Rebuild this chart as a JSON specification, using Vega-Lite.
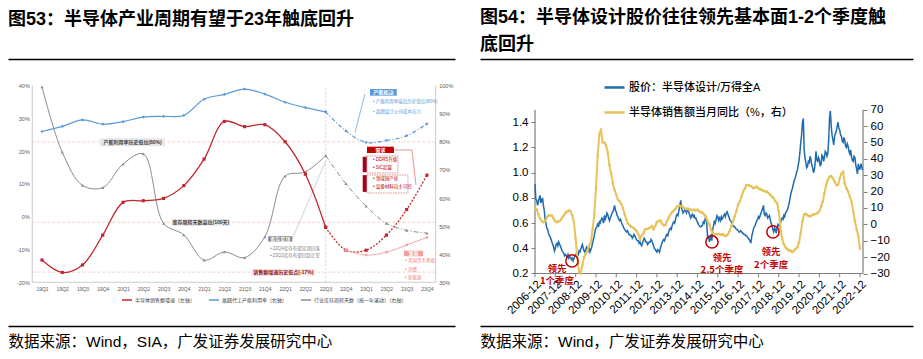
{
"$schema": "https://vega.github.io/schema/vega-lite/v6.json",
"autosize": {"type": "pad"},
"padding": {"left": 8, "top": 9, "right": 10, "bottom": 5},
"background": "white",
"bounds": "flush",
"spacing": 25,
"config": {
  "font": "Liberation Sans, Noto Sans CJK SC",
  "view": {"stroke": null},
  "axis": {"grid": false},
  "title": {"fontWeight": "bold", "fontSize": 18, "color": "#000000", "anchor": "start", "frame": "group"}
},
"resolve": {"scale": {"color": "independent"}, "legend": {"color": "independent"}},
"datasets": {
  "left": [
    {"i":0,"q":"19Q1","sales":-13.2,"util":83.7,"inv":99.6},
    {"i":1,"q":"19Q2","sales":-17.0,"util":85.5,"inv":76.3},
    {"i":2,"q":"19Q3","sales":-14.7,"util":87.8,"inv":64.5},
    {"i":3,"q":"19Q4","sales":-5.6,"util":86.3,"inv":63.7},
    {"i":4,"q":"20Q1","sales":4.4,"util":87.2,"inv":72.1},
    {"i":5,"q":"20Q2","sales":4.9,"util":88.8,"inv":75.7},
    {"i":6,"q":"20Q3","sales":5.6,"util":89.1,"inv":51.0},
    {"i":7,"q":"20Q4","sales":9.5,"util":89.4,"inv":46.9},
    {"i":8,"q":"21Q1","sales":17.6,"util":95.2,"inv":37.9},
    {"i":9,"q":"21Q2","sales":29.1,"util":96.9,"inv":40.8},
    {"i":10,"q":"21Q3","sales":27.5,"util":98.8,"inv":38.8},
    {"i":11,"q":"21Q4","sales":28.1,"util":97.0,"inv":46.2},
    {"i":12,"q":"22Q1","sales":22.9,"util":94.1,"inv":67.8},
    {"i":13,"q":"22Q2","sales":13.0,"util":92.2,"inv":69.3},
    {"i":14,"q":"22Q3","sales":-3.2,"util":90.7,"inv":75.1},
    {"i":15,"q":"22Q4","sales":-10.2,"util":83.9,"inv":65.1,"alt":-10.2},
    {"i":16,"q":"23Q1","sales":-10.2,"util":79.8,"inv":57.1,"alt":-11.7},
    {"i":17,"q":"23Q2","sales":-5.6,"util":80.5,"inv":51.0,"alt":-10.8},
    {"i":18,"q":"23Q3","sales":2.2,"util":82.2,"inv":48.5,"alt":-8.6},
    {"i":19,"q":"23Q4","sales":12.7,"util":86.4,"inv":47.5,"alt":-6.3}
  ]
},
"hconcat": [
{
  "width": 447,
  "height": 267,
  "title": {"text": "图53：半导体产业周期有望于23年触底回升", "offset": 30},
  "resolve": {"scale": {"y": "independent"}},
  "layer": [
    {
      "data": {"values": [{"i1":-0.48,"i2":-0.48,"v1":-20,"v2":40},{"i1":19.43,"i2":19.43,"v1":-20,"v2":40},{"i1":-0.48,"i2":19.43,"v1":-20,"v2":-20}]},
      "mark": {"type": "rule", "color": "#BFBFBF", "strokeWidth": 0.8},
      "encoding": {
        "x": {"field": "i1", "type": "quantitative", "scale": {"domain": [-1.678, 20.385], "nice": false, "zero": false}, "axis": null}, "x2": {"field": "i2"},
        "y": {"field": "v1", "type": "quantitative", "scale": {"domain": [-33.34, 48.15], "nice": false, "zero": false}, "axis": null}, "y2": {"field": "v2"}
      }
    },
    {
      "data": {"values": [{"i1":14,"i2":14,"v1":-20,"v2":40}]},
      "mark": {"type": "rule", "color": "#CFCFCF", "strokeWidth": 0.8, "strokeDash": [2, 2]},
      "encoding": {
        "x": {"field": "i1", "type": "quantitative", "axis": null}, "x2": {"field": "i2"},
        "y": {"field": "v1", "type": "quantitative", "scale": {"domain": [-33.34, 48.15], "nice": false, "zero": false}, "axis": null}, "y2": {"field": "v2"}
      }
    },
    {
      "data": {"values": [{"i1":-0.48,"i2":19.43,"v1":22.85,"v2":22.85},{"i1":-0.48,"i2":19.43,"v1":-1.7,"v2":-1.7},{"i1":-0.48,"i2":19.43,"v1":-16.9,"v2":-16.9}]},
      "mark": {"type": "rule", "color": "#EFC4C4", "strokeWidth": 0.8, "strokeDash": [3, 2]},
      "encoding": {
        "x": {"field": "i1", "type": "quantitative", "axis": null}, "x2": {"field": "i2"},
        "y": {"field": "v1", "type": "quantitative", "scale": {"domain": [-33.34, 48.15], "nice": false, "zero": false}, "axis": null}, "y2": {"field": "v2"}
      }
    },
    {
      "data": {"name": "left"},
      "transform": [{"filter": "datum.i <= 14"}],
      "mark": {"type": "line", "interpolate": "catmull-rom", "strokeWidth": 1.2, "point": {"shape": "diamond", "size": 10, "filled": true}},
      "encoding": {
        "x": {"field": "i", "type": "quantitative",
              "axis": {"orient": "top", "labels": false, "ticks": false, "tickSize": 0, "domain": true, "domainColor": "#000000", "domainWidth": 1.3, "grid": false, "title": null}},
        "y": {"field": "util", "type": "quantitative", "scale": {"domain": [14.44, 109.5], "nice": false, "zero": false},
              "axis": {"orient": "right", "offset": -19.3, "values": [30,40,50,60,70,80,90,100], "labelExpr": "datum.value + '%'", "domain": false, "ticks": false, "tickSize": 0, "labelPadding": 3, "labelFontSize": 5.5, "labelColor": "#595959", "grid": false, "title": null}},
        "color": {"datum": "晶圆代工产能利用率（右轴）"}
      }
    },
    {
      "data": {"name": "left"},
      "transform": [{"filter": "datum.i >= 14"}],
      "mark": {"type": "line", "interpolate": "catmull-rom", "strokeWidth": 1.2, "strokeDash": [4, 2, 1, 2], "point": {"shape": "diamond", "size": 10, "filled": true}},
      "encoding": {
        "x": {"field": "i", "type": "quantitative", "axis": null},
        "y": {"field": "util", "type": "quantitative", "scale": {"domain": [14.44, 109.5], "nice": false, "zero": false}, "axis": null},
        "color": {"datum": "晶圆代工产能利用率（右轴）"}
      }
    },
    {
      "data": {"name": "left"},
      "transform": [{"filter": "datum.i <= 14"}],
      "mark": {"type": "line", "interpolate": "catmull-rom", "strokeWidth": 1, "point": {"shape": "triangle-up", "size": 10, "filled": true}},
      "encoding": {
        "x": {"field": "i", "type": "quantitative", "axis": null},
        "y": {"field": "inv", "type": "quantitative", "scale": {"domain": [14.44, 109.5], "nice": false, "zero": false}, "axis": null},
        "color": {"datum": "行业库存周转天数（按一年滚动）（右轴）"}
      }
    },
    {
      "data": {"name": "left"},
      "transform": [{"filter": "datum.i >= 14"}],
      "mark": {"type": "line", "interpolate": "catmull-rom", "strokeWidth": 1, "strokeDash": [5, 2, 1, 2], "point": {"shape": "triangle-up", "size": 10, "filled": true}},
      "encoding": {
        "x": {"field": "i", "type": "quantitative", "axis": null},
        "y": {"field": "inv", "type": "quantitative", "scale": {"domain": [14.44, 109.5], "nice": false, "zero": false}, "axis": null},
        "color": {"datum": "行业库存周转天数（按一年滚动）（右轴）"}
      }
    },
    {
      "data": {"values": [
        {"i1":2.863,"i2":6.071,"v1":23.95,"v2":21.51,"k":"浅灰"},
        {"i1":6.40,"i2":9.28,"v1":-0.68,"v2":-2.72,"k":"浅灰"},
        {"i1":10.35,"i2":13.47,"v1":-15.94,"v2":-17.98,"k":"浅粉"},
        {"i1":16.19,"i2":17.51,"v1":38.99,"v2":36.95,"k":"蓝"},
        {"i1":16.04,"i2":17.37,"v1":21.39,"v2":19.46,"k":"红"},
        {"i1":15.83,"i2":16.03,"v1":18.3,"v2":13.6,"k":"深红"},
        {"i1":15.83,"i2":16.03,"v1":12.7,"v2":7.6,"k":"深红"},
        {"i1":11.17,"i2":12.35,"v1":-5.96,"v2":-7.60,"k":"灰"},
        {"i1":17.87,"i2":18.81,"v1":-10.35,"v2":-12.06,"k":"浅红"}
      ]},
      "mark": {"type": "rect"},
      "encoding": {
        "x": {"field": "i1", "type": "quantitative", "axis": null}, "x2": {"field": "i2"},
        "y": {"field": "v1", "type": "quantitative", "scale": {"domain": [-33.34, 48.15], "nice": false, "zero": false}, "axis": null}, "y2": {"field": "v2"},
        "fill": {"field": "k", "type": "nominal", "legend": null,
                 "scale": {"domain": ["浅灰","浅粉","蓝","红","深红","灰","浅红"], "range": ["#E4E7EC","#FBE2E4","#5B9BD5","#C00000","#A50021","#808080","#F4A09C"]}}
      }
    },
    {
      "data": {"values": [{"i1":16.03,"i2":17.57,"v1":18.55,"v2":13.36},{"i1":16.03,"i2":18.06,"v1":12.75,"v2":7.25}]},
      "mark": {"type": "rect", "fillOpacity": 0, "stroke": "#D04040", "strokeWidth": 0.6, "strokeDash": [1.5, 1]},
      "encoding": {
        "x": {"field": "i1", "type": "quantitative", "axis": null}, "x2": {"field": "i2"},
        "y": {"field": "v1", "type": "quantitative", "scale": {"domain": [-33.34, 48.15], "nice": false, "zero": false}, "axis": null}, "y2": {"field": "v2"}
      }
    },
    {
      "data": {"values": [
        {"i1":15.94,"i2":15.45,"v1":37.47,"v2":25.78,"k":"蓝"},
        {"i1":17.37,"i2":18.26,"v1":20.38,"v2":20.38,"k":"红"},
        {"i1":18.26,"i2":18.46,"v1":20.38,"v2":9.7,"k":"红"},
        {"i1":12.35,"i2":14.0,"v1":-6.78,"v2":17.0,"k":"灰"}
      ]},
      "mark": {"type": "rule", "strokeWidth": 0.7},
      "encoding": {
        "x": {"field": "i1", "type": "quantitative", "axis": null}, "x2": {"field": "i2"},
        "y": {"field": "v1", "type": "quantitative", "scale": {"domain": [-33.34, 48.15], "nice": false, "zero": false}, "axis": null}, "y2": {"field": "v2"},
        "stroke": {"field": "k", "type": "nominal", "legend": null, "scale": {"domain": ["蓝","红","灰"], "range": ["#5B9BD5","#E06666","#BFBFBF"]}}
      }
    },
    {
      "data": {"name": "left"},
      "transform": [{"filter": "datum.i <= 14"}],
      "mark": {"type": "line", "interpolate": "catmull-rom", "strokeWidth": 1.3, "point": {"shape": "square", "size": 10, "filled": true}},
      "encoding": {
        "x": {"field": "i", "type": "quantitative",
              "axis": {"orient": "bottom", "values": [0,1,2,3,4,5,6,7,8,9,10,11,12,13,14,15,16,17,18,19],
                       "labelExpr": "(19 + floor(datum.value / 4)) + 'Q' + (datum.value % 4 + 1)",
                       "labelFontSize": 5, "labelColor": "#595959", "labelPadding": -38, "labelBaseline": "middle", "labelOverlap": false, "labelFlush": false,
                       "ticks": false, "tickSize": 0, "grid": false, "domain": true, "domainColor": "#000000", "domainWidth": 1.3,
                       "title": "数据来源：Wind，SIA，广发证券发展研究中心", "titleAnchor": "start", "titleAlign": "left", "titleFontSize": 15.5, "titleFontWeight": "normal", "titleColor": "#000000", "titlePadding": 8.5}},
        "y": {"field": "sales", "type": "quantitative", "scale": {"domain": [-33.34, 48.15], "nice": false, "zero": false},
              "axis": {"orient": "left", "offset": -24.3, "values": [-20,-10,0,10,20,30,40], "labelExpr": "datum.value + '%'", "domain": false, "ticks": false, "tickSize": 0, "labelPadding": 3, "labelFontSize": 5.5, "labelColor": "#595959", "grid": false, "title": null}},
        "color": {"datum": "半导体销售额增速（左轴）",
                  "scale": {"domain": ["半导体销售额增速（左轴）","晶圆代工产能利用率（右轴）","行业库存周转天数（按一年滚动）（右轴）"], "range": ["#C0272D","#5B9BD5","#8C8C8C"]},
                  "legend": {"orient": "none", "legendX": 113, "legendY": 235, "direction": "horizontal", "title": null, "symbolType": "stroke", "symbolSize": 100, "symbolStrokeWidth": 1.5, "labelFontSize": 5, "labelColor": "#404040", "columnPadding": 10, "labelOffset": 2, "labelLimit": 200}}
      }
    },
    {
      "data": {"name": "left"},
      "transform": [{"filter": "datum.i >= 14"}],
      "mark": {"type": "line", "interpolate": "catmull-rom", "strokeWidth": 1.3, "strokeDash": [2, 1.5], "point": {"shape": "square", "size": 10, "filled": true}},
      "encoding": {
        "x": {"field": "i", "type": "quantitative", "axis": null},
        "y": {"field": "sales", "type": "quantitative", "scale": {"domain": [-33.34, 48.15], "nice": false, "zero": false}, "axis": null},
        "color": {"datum": "半导体销售额增速（左轴）"}
      }
    },
    {
      "data": {"name": "left"},
      "transform": [{"filter": "isValid(datum.alt)"}],
      "mark": {"type": "line", "interpolate": "catmull-rom", "strokeWidth": 1, "color": "#F2A7A7", "point": {"shape": "circle", "size": 8, "filled": true, "color": "#F2A7A7"}},
      "encoding": {
        "x": {"field": "i", "type": "quantitative", "axis": null},
        "y": {"field": "alt", "type": "quantitative", "scale": {"domain": [-33.34, 48.15], "nice": false, "zero": false}, "axis": null}
      }
    },
    {
      "data": {"values": [{"i":4.47,"v":22.73,"t":"产能利用率历史低位(80%)"},{"i":7.84,"v":-1.70,"t":"库存周转天数高位(100天)"}]},
      "mark": {"type": "text", "fontSize": 5, "fontWeight": "bold", "color": "#404040", "align": "center", "baseline": "middle"},
      "encoding": {"x": {"field": "i", "type": "quantitative", "axis": null}, "y": {"field": "v", "type": "quantitative", "scale": {"domain": [-33.34, 48.15], "nice": false, "zero": false}, "axis": null}, "text": {"field": "t"}}
    },
    {
      "data": {"values": [{"i":11.91,"v":-16.96,"t":"销售额增速历史低点(-17%)"}]},
      "mark": {"type": "text", "fontSize": 5, "fontWeight": "bold", "color": "#8B1A1A", "align": "center", "baseline": "middle"},
      "encoding": {"x": {"field": "i", "type": "quantitative", "axis": null}, "y": {"field": "v", "type": "quantitative", "scale": {"domain": [-33.34, 48.15], "nice": false, "zero": false}, "axis": null}, "text": {"field": "t"}}
    },
    {
      "data": {"values": [{"i":16.85,"v":37.97,"t":"产能松动"},{"i":16.71,"v":20.43,"t":"需求"},{"i":11.76,"v":-6.78,"t":"库存见顶"},{"i":18.34,"v":-11.2,"t":"复苏"}]},
      "mark": {"type": "text", "fontSize": 5, "fontWeight": "bold", "color": "#FFFFFF", "align": "center", "baseline": "middle"},
      "encoding": {"x": {"field": "i", "type": "quantitative", "axis": null}, "y": {"field": "v", "type": "quantitative", "scale": {"domain": [-33.34, 48.15], "nice": false, "zero": false}, "axis": null}, "text": {"field": "t"}}
    },
    {
      "data": {"values": [{"i":16.34,"v":34.93,"t":"• 产能利用率接近历史低位(80%)"},{"i":16.34,"v":31.88,"t":"• 晶圆设计公司成本压力"}]},
      "mark": {"type": "text", "fontSize": 4.5, "color": "#5B9BD5", "align": "left", "baseline": "middle"},
      "encoding": {"x": {"field": "i", "type": "quantitative", "axis": null}, "y": {"field": "v", "type": "quantitative", "scale": {"domain": [-33.34, 48.15], "nice": false, "zero": false}, "axis": null}, "text": {"field": "t"}}
    },
    {
      "data": {"values": [{"i":16.34,"v":17.42,"t":"• DDR5升级"},{"i":16.34,"v":14.79,"t":"• SiC起量"},{"i":16.34,"v":11.53,"t":"• 领域国产化"},{"i":16.34,"v":9.0,"t":"• 设备材料自主可控"}]},
      "mark": {"type": "text", "fontSize": 4.5, "color": "#C00000", "align": "left", "baseline": "middle"},
      "encoding": {"x": {"field": "i", "type": "quantitative", "axis": null}, "y": {"field": "v", "type": "quantitative", "scale": {"domain": [-33.34, 48.15], "nice": false, "zero": false}, "axis": null}, "text": {"field": "t"}}
    },
    {
      "data": {"values": [{"i":11.25,"v":-9.83,"t":"• 22Q4库存有望见顶回落"},{"i":11.25,"v":-12.06,"t":"• 23Q2库存有望回到正常"}]},
      "mark": {"type": "text", "fontSize": 4.5, "color": "#7F7F7F", "align": "left", "baseline": "middle"},
      "encoding": {"x": {"field": "i", "type": "quantitative", "axis": null}, "y": {"field": "v", "type": "quantitative", "scale": {"domain": [-33.34, 48.15], "nice": false, "zero": false}, "axis": null}, "text": {"field": "t"}}
    },
    {
      "data": {"values": [{"i":17.92,"v":-13.49,"t":"• 美国货币紧缩"},{"i":17.92,"v":-16.24,"t":"• 消费"},{"i":17.92,"v":-18.68,"t":"• 新能源"}]},
      "mark": {"type": "text", "fontSize": 4.5, "color": "#F08080", "align": "left", "baseline": "middle"},
      "encoding": {"x": {"field": "i", "type": "quantitative", "axis": null}, "y": {"field": "v", "type": "quantitative", "scale": {"domain": [-33.34, 48.15], "nice": false, "zero": false}, "axis": null}, "text": {"field": "t"}}
    }
  ]
},
{
  "width": 433,
  "height": 267,
  "title": {"text": ["图54：半导体设计股价往往领先基本面1-2个季度触", "底回升"], "offset": 5, "lineHeight": 27},
  "resolve": {"scale": {"y": "independent"}},
  "layer": [
    {
      "data": {"values": [
        {"d1":"2006-12-01","d2":"2006-12-01","p1":0.2,"p2":1.5},
        {"d1":"2023-01-24","d2":"2023-01-24","p1":0.2,"p2":1.5},
        {"d1":"2006-12-01","d2":"2023-01-24","p1":0.2,"p2":0.2}
      ], "format": {"parse": {"d1": "date", "d2": "date"}}},
      "mark": {"type": "rule", "color": "#7F7F7F", "strokeWidth": 1.2},
      "encoding": {
        "x": {"field": "d1", "type": "temporal", "axis": null}, "x2": {"field": "d2"},
        "y": {"field": "p1", "type": "quantitative", "scale": {"domain": [-0.2167, 1.902], "nice": false, "zero": false}, "axis": null}, "y2": {"field": "p2"}
      }
    },
    {
      "data": {"values": [
        {"d":"2006-12-01"},{"d":"2007-12-01"},{"d":"2008-12-01"},{"d":"2009-12-01"},{"d":"2010-12-01"},{"d":"2011-12-01"},{"d":"2012-12-01"},{"d":"2013-12-01"},{"d":"2014-12-01"},{"d":"2015-12-01"},{"d":"2016-12-01"},{"d":"2017-12-01"},{"d":"2018-12-01"},{"d":"2019-12-01"},{"d":"2020-12-01"},{"d":"2021-12-01"},{"d":"2022-12-01"}
      ], "format": {"parse": {"d": "date"}}},
      "mark": {"type": "rule", "color": "#7F7F7F", "strokeWidth": 1},
      "encoding": {
        "x": {"field": "d", "type": "temporal", "axis": null},
        "y": {"datum": 0.2, "type": "quantitative", "scale": {"domain": [-0.2167, 1.902], "nice": false, "zero": false}, "axis": null},
        "y2": {"datum": 0.17}
      }
    },
    {
      "data": {"format": {"parse": {"d": "date"}}, "values": [
{"d":"2006-12-01","p":0.91},{"d":"2006-12-16","p":0.79},
{"d":"2007-01-01","p":0.78},{"d":"2007-01-16","p":0.74},{"d":"2007-02-01","p":0.77},{"d":"2007-02-16","p":0.80},{"d":"2007-03-01","p":0.82},{"d":"2007-03-16","p":0.76},{"d":"2007-04-01","p":0.78},{"d":"2007-04-16","p":0.80},{"d":"2007-05-01","p":0.74},{"d":"2007-05-16","p":0.70},{"d":"2007-06-01","p":0.63},{"d":"2007-06-16","p":0.60},{"d":"2007-07-01","p":0.56},{"d":"2007-07-16","p":0.55},{"d":"2007-08-01","p":0.52},{"d":"2007-08-16","p":0.50},{"d":"2007-09-01","p":0.49},{"d":"2007-09-16","p":0.47},{"d":"2007-10-01","p":0.45},{"d":"2007-10-16","p":0.43},{"d":"2007-11-01","p":0.41},{"d":"2007-11-16","p":0.38},{"d":"2007-12-01","p":0.40},{"d":"2007-12-16","p":0.43},
{"d":"2008-01-01","p":0.44},{"d":"2008-01-16","p":0.42},{"d":"2008-02-01","p":0.45},{"d":"2008-02-16","p":0.43},{"d":"2008-03-01","p":0.42},{"d":"2008-03-16","p":0.40},{"d":"2008-04-01","p":0.38},{"d":"2008-04-16","p":0.37},{"d":"2008-05-01","p":0.36},{"d":"2008-05-16","p":0.34},{"d":"2008-06-01","p":0.35},{"d":"2008-06-16","p":0.34},{"d":"2008-07-01","p":0.33},{"d":"2008-07-16","p":0.35},{"d":"2008-08-01","p":0.32},{"d":"2008-08-16","p":0.33},{"d":"2008-09-01","p":0.33},{"d":"2008-09-16","p":0.31},{"d":"2008-10-01","p":0.32},{"d":"2008-10-16","p":0.30},{"d":"2008-11-01","p":0.32},{"d":"2008-11-16","p":0.34},{"d":"2008-12-01","p":0.34},{"d":"2008-12-16","p":0.36},
{"d":"2009-01-01","p":0.36},{"d":"2009-01-16","p":0.35},{"d":"2009-02-01","p":0.38},{"d":"2009-02-16","p":0.37},{"d":"2009-03-01","p":0.39},{"d":"2009-03-16","p":0.41},{"d":"2009-04-01","p":0.43},{"d":"2009-04-16","p":0.40},{"d":"2009-05-01","p":0.38},{"d":"2009-05-16","p":0.37},{"d":"2009-06-01","p":0.39},{"d":"2009-06-16","p":0.41},{"d":"2009-07-01","p":0.40},{"d":"2009-07-16","p":0.38},{"d":"2009-08-01","p":0.40},{"d":"2009-08-16","p":0.37},{"d":"2009-09-01","p":0.39},{"d":"2009-09-16","p":0.41},{"d":"2009-10-01","p":0.44},{"d":"2009-10-16","p":0.47},{"d":"2009-11-01","p":0.50},{"d":"2009-11-16","p":0.54},{"d":"2009-12-01","p":0.56},{"d":"2009-12-16","p":0.57},
{"d":"2010-01-01","p":0.59},{"d":"2010-01-16","p":0.57},{"d":"2010-02-01","p":0.61},{"d":"2010-02-16","p":0.60},{"d":"2010-03-01","p":0.62},{"d":"2010-03-16","p":0.64},{"d":"2010-04-01","p":0.63},{"d":"2010-04-16","p":0.60},{"d":"2010-05-01","p":0.66},{"d":"2010-05-16","p":0.63},{"d":"2010-06-01","p":0.65},{"d":"2010-06-16","p":0.68},{"d":"2010-07-01","p":0.67},{"d":"2010-07-16","p":0.64},{"d":"2010-08-01","p":0.62},{"d":"2010-08-16","p":0.64},{"d":"2010-09-01","p":0.66},{"d":"2010-09-16","p":0.68},{"d":"2010-10-01","p":0.69},{"d":"2010-10-16","p":0.71},{"d":"2010-11-01","p":0.74},{"d":"2010-11-16","p":0.70},{"d":"2010-12-01","p":0.69},{"d":"2010-12-16","p":0.66},
{"d":"2011-01-01","p":0.65},{"d":"2011-01-16","p":0.63},{"d":"2011-02-01","p":0.62},{"d":"2011-02-16","p":0.63},{"d":"2011-03-01","p":0.61},{"d":"2011-03-16","p":0.59},{"d":"2011-04-01","p":0.58},{"d":"2011-04-16","p":0.56},{"d":"2011-05-01","p":0.55},{"d":"2011-05-16","p":0.54},{"d":"2011-06-01","p":0.53},{"d":"2011-06-16","p":0.54},{"d":"2011-07-01","p":0.53},{"d":"2011-07-16","p":0.51},{"d":"2011-08-01","p":0.51},{"d":"2011-08-16","p":0.50},{"d":"2011-09-01","p":0.50},{"d":"2011-09-16","p":0.48},{"d":"2011-10-01","p":0.49},{"d":"2011-10-16","p":0.51},{"d":"2011-11-01","p":0.50},{"d":"2011-11-16","p":0.48},{"d":"2011-12-01","p":0.47},{"d":"2011-12-16","p":0.46},
{"d":"2012-01-01","p":0.46},{"d":"2012-01-16","p":0.44},{"d":"2012-02-01","p":0.45},{"d":"2012-02-16","p":0.43},{"d":"2012-03-01","p":0.42},{"d":"2012-03-16","p":0.44},{"d":"2012-04-01","p":0.46},{"d":"2012-04-16","p":0.48},{"d":"2012-05-01","p":0.47},{"d":"2012-05-16","p":0.45},{"d":"2012-06-01","p":0.45},{"d":"2012-06-16","p":0.43},{"d":"2012-07-01","p":0.44},{"d":"2012-07-16","p":0.45},{"d":"2012-08-01","p":0.45},{"d":"2012-08-16","p":0.47},{"d":"2012-09-01","p":0.46},{"d":"2012-09-16","p":0.44},{"d":"2012-10-01","p":0.42},{"d":"2012-10-16","p":0.40},{"d":"2012-11-01","p":0.39},{"d":"2012-11-16","p":0.38},{"d":"2012-12-01","p":0.37},{"d":"2012-12-16","p":0.39},
{"d":"2013-01-01","p":0.38},{"d":"2013-01-16","p":0.37},{"d":"2013-02-01","p":0.40},{"d":"2013-02-16","p":0.42},{"d":"2013-03-01","p":0.44},{"d":"2013-03-16","p":0.46},{"d":"2013-04-01","p":0.47},{"d":"2013-04-16","p":0.46},{"d":"2013-05-01","p":0.48},{"d":"2013-05-16","p":0.50},{"d":"2013-06-01","p":0.51},{"d":"2013-06-16","p":0.50},{"d":"2013-07-01","p":0.53},{"d":"2013-07-16","p":0.55},{"d":"2013-08-01","p":0.56},{"d":"2013-08-16","p":0.55},{"d":"2013-09-01","p":0.58},{"d":"2013-09-16","p":0.60},{"d":"2013-10-01","p":0.61},{"d":"2013-10-16","p":0.60},{"d":"2013-11-01","p":0.63},{"d":"2013-11-16","p":0.66},{"d":"2013-12-01","p":0.67},{"d":"2013-12-16","p":0.66},
{"d":"2014-01-01","p":0.70},{"d":"2014-01-16","p":0.73},{"d":"2014-02-01","p":0.78},{"d":"2014-02-16","p":0.72},{"d":"2014-03-01","p":0.70},{"d":"2014-03-16","p":0.68},{"d":"2014-04-01","p":0.69},{"d":"2014-04-16","p":0.71},{"d":"2014-05-01","p":0.70},{"d":"2014-05-16","p":0.68},{"d":"2014-06-01","p":0.70},{"d":"2014-06-16","p":0.71},{"d":"2014-07-01","p":0.68},{"d":"2014-07-16","p":0.66},{"d":"2014-08-01","p":0.64},{"d":"2014-08-16","p":0.66},{"d":"2014-09-01","p":0.67},{"d":"2014-09-16","p":0.65},{"d":"2014-10-01","p":0.66},{"d":"2014-10-16","p":0.64},{"d":"2014-11-01","p":0.64},{"d":"2014-11-16","p":0.62},{"d":"2014-12-01","p":0.61},{"d":"2014-12-16","p":0.59},
{"d":"2015-01-01","p":0.58},{"d":"2015-01-16","p":0.57},{"d":"2015-02-01","p":0.57},{"d":"2015-02-16","p":0.58},{"d":"2015-03-01","p":0.58},{"d":"2015-03-16","p":0.61},{"d":"2015-04-01","p":0.60},{"d":"2015-04-16","p":0.63},{"d":"2015-05-01","p":0.66},{"d":"2015-05-16","p":0.60},{"d":"2015-06-01","p":0.48},{"d":"2015-06-16","p":0.50},{"d":"2015-07-01","p":0.45},{"d":"2015-07-16","p":0.47},{"d":"2015-08-01","p":0.51},{"d":"2015-08-16","p":0.46},{"d":"2015-09-01","p":0.55},{"d":"2015-09-16","p":0.58},{"d":"2015-10-01","p":0.62},{"d":"2015-10-16","p":0.60},{"d":"2015-11-01","p":0.63},{"d":"2015-11-16","p":0.66},{"d":"2015-12-01","p":0.65},{"d":"2015-12-16","p":0.62},
{"d":"2016-01-01","p":0.64},{"d":"2016-01-16","p":0.62},{"d":"2016-02-01","p":0.65},{"d":"2016-02-16","p":0.63},{"d":"2016-03-01","p":0.64},{"d":"2016-03-16","p":0.66},{"d":"2016-04-01","p":0.67},{"d":"2016-04-16","p":0.65},{"d":"2016-05-01","p":0.68},{"d":"2016-05-16","p":0.69},{"d":"2016-06-01","p":0.67},{"d":"2016-06-16","p":0.65},{"d":"2016-07-01","p":0.63},{"d":"2016-07-16","p":0.62},{"d":"2016-08-01","p":0.61},{"d":"2016-08-16","p":0.59},{"d":"2016-09-01","p":0.58},{"d":"2016-09-16","p":0.57},{"d":"2016-10-01","p":0.57},{"d":"2016-10-16","p":0.56},{"d":"2016-11-01","p":0.55},{"d":"2016-11-16","p":0.55},{"d":"2016-12-01","p":0.54},{"d":"2016-12-16","p":0.53},
{"d":"2017-01-01","p":0.53},{"d":"2017-01-16","p":0.54},{"d":"2017-02-01","p":0.53},{"d":"2017-02-16","p":0.52},{"d":"2017-03-01","p":0.52},{"d":"2017-03-16","p":0.51},{"d":"2017-04-01","p":0.51},{"d":"2017-04-16","p":0.50},{"d":"2017-05-01","p":0.50},{"d":"2017-05-16","p":0.49},{"d":"2017-06-01","p":0.48},{"d":"2017-06-16","p":0.47},{"d":"2017-07-01","p":0.46},{"d":"2017-07-16","p":0.44},{"d":"2017-08-01","p":0.49},{"d":"2017-08-16","p":0.52},{"d":"2017-09-01","p":0.55},{"d":"2017-09-16","p":0.57},{"d":"2017-10-01","p":0.58},{"d":"2017-10-16","p":0.60},{"d":"2017-11-01","p":0.62},{"d":"2017-11-16","p":0.63},{"d":"2017-12-01","p":0.65},{"d":"2017-12-16","p":0.64},
{"d":"2018-01-01","p":0.66},{"d":"2018-01-16","p":0.68},{"d":"2018-02-01","p":0.70},{"d":"2018-02-16","p":0.72},{"d":"2018-03-01","p":0.74},{"d":"2018-03-16","p":0.67},{"d":"2018-04-01","p":0.66},{"d":"2018-04-16","p":0.68},{"d":"2018-05-01","p":0.67},{"d":"2018-05-16","p":0.64},{"d":"2018-06-01","p":0.65},{"d":"2018-06-16","p":0.66},{"d":"2018-07-01","p":0.63},{"d":"2018-07-16","p":0.60},{"d":"2018-08-01","p":0.58},{"d":"2018-08-16","p":0.55},{"d":"2018-09-01","p":0.53},{"d":"2018-09-16","p":0.56},{"d":"2018-10-01","p":0.55},{"d":"2018-10-16","p":0.52},{"d":"2018-11-01","p":0.56},{"d":"2018-11-16","p":0.59},{"d":"2018-12-01","p":0.58},{"d":"2018-12-16","p":0.57},
{"d":"2019-01-01","p":0.60},{"d":"2019-01-16","p":0.63},{"d":"2019-02-01","p":0.64},{"d":"2019-02-16","p":0.63},{"d":"2019-03-01","p":0.66},{"d":"2019-03-16","p":0.65},{"d":"2019-04-01","p":0.68},{"d":"2019-04-16","p":0.69},{"d":"2019-05-01","p":0.70},{"d":"2019-05-16","p":0.72},{"d":"2019-06-01","p":0.75},{"d":"2019-06-16","p":0.78},{"d":"2019-07-01","p":0.82},{"d":"2019-07-16","p":0.85},{"d":"2019-08-01","p":0.87},{"d":"2019-08-16","p":0.90},{"d":"2019-09-01","p":0.93},{"d":"2019-09-16","p":0.95},{"d":"2019-10-01","p":0.97},{"d":"2019-10-16","p":1.00},{"d":"2019-11-01","p":1.02},{"d":"2019-11-16","p":1.06},{"d":"2019-12-01","p":1.10},{"d":"2019-12-16","p":1.16},
{"d":"2020-01-01","p":1.24},{"d":"2020-01-16","p":1.30},{"d":"2020-02-01","p":1.40},{"d":"2020-02-16","p":1.43},{"d":"2020-03-01","p":1.19},{"d":"2020-03-16","p":1.12},{"d":"2020-04-01","p":1.08},{"d":"2020-04-16","p":1.04},{"d":"2020-05-01","p":1.05},{"d":"2020-05-16","p":1.09},{"d":"2020-06-01","p":1.08},{"d":"2020-06-16","p":1.13},{"d":"2020-07-01","p":1.11},{"d":"2020-07-16","p":1.06},{"d":"2020-08-01","p":1.04},{"d":"2020-08-16","p":1.00},{"d":"2020-09-01","p":1.02},{"d":"2020-09-16","p":1.08},{"d":"2020-10-01","p":1.17},{"d":"2020-10-16","p":1.10},{"d":"2020-11-01","p":1.09},{"d":"2020-11-16","p":1.12},{"d":"2020-12-01","p":1.10},{"d":"2020-12-16","p":1.05},
{"d":"2021-01-01","p":1.07},{"d":"2021-01-16","p":1.14},{"d":"2021-02-01","p":1.13},{"d":"2021-02-16","p":1.09},{"d":"2021-03-01","p":1.12},{"d":"2021-03-16","p":1.17},{"d":"2021-04-01","p":1.16},{"d":"2021-04-16","p":1.13},{"d":"2021-05-01","p":1.15},{"d":"2021-05-16","p":1.25},{"d":"2021-06-01","p":1.43},{"d":"2021-06-16","p":1.49},{"d":"2021-07-01","p":1.37},{"d":"2021-07-16","p":1.30},{"d":"2021-08-01","p":1.26},{"d":"2021-08-16","p":1.22},{"d":"2021-09-01","p":1.29},{"d":"2021-09-16","p":1.31},{"d":"2021-10-01","p":1.33},{"d":"2021-10-16","p":1.37},{"d":"2021-11-01","p":1.40},{"d":"2021-11-16","p":1.35},{"d":"2021-12-01","p":1.34},{"d":"2021-12-16","p":1.30},
{"d":"2022-01-01","p":1.29},{"d":"2022-01-16","p":1.25},{"d":"2022-02-01","p":1.24},{"d":"2022-02-16","p":1.28},{"d":"2022-03-01","p":1.26},{"d":"2022-03-16","p":1.21},{"d":"2022-04-01","p":1.20},{"d":"2022-04-16","p":1.23},{"d":"2022-05-01","p":1.21},{"d":"2022-05-16","p":1.17},{"d":"2022-06-01","p":1.15},{"d":"2022-06-16","p":1.18},{"d":"2022-07-01","p":1.13},{"d":"2022-07-16","p":1.10},{"d":"2022-08-01","p":1.09},{"d":"2022-08-16","p":1.13},{"d":"2022-09-01","p":1.12},{"d":"2022-09-16","p":1.06},{"d":"2022-10-01","p":1.03},{"d":"2022-10-16","p":0.99},{"d":"2022-11-01","p":1.07},{"d":"2022-11-16","p":1.03},{"d":"2022-12-01","p":1.03},{"d":"2022-12-16","p":1.07},
{"d":"2023-01-01","p":1.05},{"d":"2023-01-16","p":1.02}
      ]},
      "mark": {"type": "line", "strokeWidth": 1.5},
      "encoding": {
        "x": {"field": "d", "type": "temporal",
              "scale": {"domain": [{"year": 2004, "month": 3, "date": 17}, {"year": 2025, "month": 7, "date": 11}], "nice": false},
              "axis": {"orient": "bottom",
                       "values": [{"year":2006,"month":12,"date":1},{"year":2007,"month":12,"date":1},{"year":2008,"month":12,"date":1},{"year":2009,"month":12,"date":1},{"year":2010,"month":12,"date":1},{"year":2011,"month":12,"date":1},{"year":2012,"month":12,"date":1},{"year":2013,"month":12,"date":1},{"year":2014,"month":12,"date":1},{"year":2015,"month":12,"date":1},{"year":2016,"month":12,"date":1},{"year":2017,"month":12,"date":1},{"year":2018,"month":12,"date":1},{"year":2019,"month":12,"date":1},{"year":2020,"month":12,"date":1},{"year":2021,"month":12,"date":1},{"year":2022,"month":12,"date":1}],
                       "format": "%Y-%m", "labelAngle": -45, "labelAlign": "right", "labelBaseline": "top", "labelPadding": -48, "labelFontSize": 11.5, "labelColor": "#000000", "labelOverlap": false, "labelFlush": false,
                       "ticks": false, "tickSize": 0, "grid": false, "domain": true, "domainColor": "#000000", "domainWidth": 1.3,
                       "title": "数据来源：Wind，广发证券发展研究中心", "titleAnchor": "start", "titleAlign": "left", "titleFontSize": 15.5, "titleFontWeight": "normal", "titleColor": "#000000", "titlePadding": 8.5}},
        "y": {"field": "p", "type": "quantitative", "scale": {"domain": [-0.2167, 1.902], "nice": false, "zero": false},
              "axis": {"orient": "left", "offset": -55, "values": [0.2,0.4,0.6,0.8,1.0,1.2,1.4], "format": ".1f", "domain": false, "ticks": true, "tickSize": 4, "tickColor": "#7F7F7F", "labelPadding": 3, "labelFontSize": 11.5, "labelColor": "#000000", "grid": false, "title": null}},
        "color": {"datum": "股价：半导体设计/万得全A",
                  "scale": {"domain": ["股价：半导体设计/万得全A", "半导体销售额当月同比（%，右）"], "range": ["#1F6BAE", "#E6C35C"]},
                  "legend": {"orient": "none", "legendX": 123, "legendY": 17, "direction": "vertical", "title": null, "symbolType": "stroke", "symbolSize": 400, "symbolStrokeWidth": 2.5, "labelFontSize": 11, "labelFontWeight": 500, "labelColor": "#000000", "rowPadding": 8, "labelOffset": 3, "labelLimit": 300}}
      }
    },
    {
      "data": {"format": {"parse": {"d": "date"}}, "values": [
{"d":"2006-12-01","y":10},
{"d":"2007-01-01","y":9},{"d":"2007-02-01","y":6},{"d":"2007-03-01","y":3.5},{"d":"2007-04-01","y":2},{"d":"2007-05-01","y":1.3},{"d":"2007-06-01","y":2},{"d":"2007-07-01","y":4},{"d":"2007-08-01","y":5.4},{"d":"2007-09-01","y":5.4},{"d":"2007-10-01","y":5.4},{"d":"2007-11-01","y":3.5},{"d":"2007-12-01","y":2},
{"d":"2008-01-01","y":1.3},{"d":"2008-02-01","y":2},{"d":"2008-03-01","y":2.3},{"d":"2008-04-01","y":4},{"d":"2008-05-01","y":5.4},{"d":"2008-06-01","y":7},{"d":"2008-07-01","y":8},{"d":"2008-08-01","y":8.4},{"d":"2008-09-01","y":8},{"d":"2008-10-01","y":5.4},{"d":"2008-11-01","y":1},{"d":"2008-12-01","y":-9},
{"d":"2009-01-01","y":-21},{"d":"2009-02-01","y":-29},{"d":"2009-03-01","y":-30},{"d":"2009-04-01","y":-25},{"d":"2009-05-01","y":-20},{"d":"2009-06-01","y":-18},{"d":"2009-07-01","y":-16},{"d":"2009-08-01","y":-13},{"d":"2009-09-01","y":-11},{"d":"2009-10-01","y":-3},{"d":"2009-11-01","y":6},{"d":"2009-12-01","y":22},
{"d":"2010-01-01","y":42},{"d":"2010-02-01","y":55},{"d":"2010-03-01","y":58},{"d":"2010-04-01","y":50},{"d":"2010-05-01","y":50},{"d":"2010-06-01","y":48},{"d":"2010-07-01","y":44},{"d":"2010-08-01","y":36},{"d":"2010-09-01","y":31},{"d":"2010-10-01","y":25},{"d":"2010-11-01","y":21},{"d":"2010-12-01","y":18},
{"d":"2011-01-01","y":15},{"d":"2011-02-01","y":14},{"d":"2011-03-01","y":12.5},{"d":"2011-04-01","y":10},{"d":"2011-05-01","y":6},{"d":"2011-06-01","y":3},{"d":"2011-07-01","y":0.5},{"d":"2011-08-01","y":-0.5},{"d":"2011-09-01","y":-1.5},{"d":"2011-10-01","y":-2},{"d":"2011-11-01","y":-3},{"d":"2011-12-01","y":-4},
{"d":"2012-01-01","y":-6},{"d":"2012-02-01","y":-9},{"d":"2012-03-01","y":-7},{"d":"2012-04-01","y":-5.5},{"d":"2012-05-01","y":-3},{"d":"2012-06-01","y":-3},{"d":"2012-07-01","y":-2.5},{"d":"2012-08-01","y":-2},{"d":"2012-09-01","y":-1},{"d":"2012-10-01","y":-3},{"d":"2012-11-01","y":-1},{"d":"2012-12-01","y":1.5},
{"d":"2013-01-01","y":2},{"d":"2013-02-01","y":2.5},{"d":"2013-03-01","y":0.5},{"d":"2013-04-01","y":-0.5},{"d":"2013-05-01","y":-0.5},{"d":"2013-06-01","y":2},{"d":"2013-07-01","y":4},{"d":"2013-08-01","y":6},{"d":"2013-09-01","y":7.5},{"d":"2013-10-01","y":8.5},{"d":"2013-11-01","y":9.5},{"d":"2013-12-01","y":11},
{"d":"2014-01-01","y":11.5},{"d":"2014-02-01","y":11},{"d":"2014-03-01","y":11},{"d":"2014-04-01","y":10},{"d":"2014-05-01","y":9.5},{"d":"2014-06-01","y":9.5},{"d":"2014-07-01","y":9},{"d":"2014-08-01","y":9},{"d":"2014-09-01","y":8.5},{"d":"2014-10-01","y":9},{"d":"2014-11-01","y":8.5},{"d":"2014-12-01","y":9},
{"d":"2015-01-01","y":8},{"d":"2015-02-01","y":7.5},{"d":"2015-03-01","y":7},{"d":"2015-04-01","y":6},{"d":"2015-05-01","y":4.5},{"d":"2015-06-01","y":2},{"d":"2015-07-01","y":0},{"d":"2015-08-01","y":-3},{"d":"2015-09-01","y":-5},{"d":"2015-10-01","y":-6},{"d":"2015-11-01","y":-6},{"d":"2015-12-01","y":-6},
{"d":"2016-01-01","y":-6},{"d":"2016-02-01","y":-6.5},{"d":"2016-03-01","y":-6},{"d":"2016-04-01","y":-7},{"d":"2016-05-01","y":-7},{"d":"2016-06-01","y":-6},{"d":"2016-07-01","y":-4},{"d":"2016-08-01","y":-1},{"d":"2016-09-01","y":2},{"d":"2016-10-01","y":5},{"d":"2016-11-01","y":8.5},{"d":"2016-12-01","y":12},
{"d":"2017-01-01","y":14},{"d":"2017-02-01","y":17},{"d":"2017-03-01","y":20},{"d":"2017-04-01","y":22},{"d":"2017-05-01","y":24},{"d":"2017-06-01","y":24},{"d":"2017-07-01","y":23.5},{"d":"2017-08-01","y":23},{"d":"2017-09-01","y":22},{"d":"2017-10-01","y":22.5},{"d":"2017-11-01","y":23},{"d":"2017-12-01","y":22},
{"d":"2018-01-01","y":21.5},{"d":"2018-02-01","y":21},{"d":"2018-03-01","y":20.5},{"d":"2018-04-01","y":20},{"d":"2018-05-01","y":20},{"d":"2018-06-01","y":19},{"d":"2018-07-01","y":18},{"d":"2018-08-01","y":17},{"d":"2018-09-01","y":16},{"d":"2018-10-01","y":14},{"d":"2018-11-01","y":13},{"d":"2018-12-01","y":8},
{"d":"2019-01-01","y":-2},{"d":"2019-02-01","y":-9},{"d":"2019-03-01","y":-12},{"d":"2019-04-01","y":-14},{"d":"2019-05-01","y":-15},{"d":"2019-06-01","y":-16},{"d":"2019-07-01","y":-16},{"d":"2019-08-01","y":-17},{"d":"2019-09-01","y":-16},{"d":"2019-10-01","y":-15},{"d":"2019-11-01","y":-14},{"d":"2019-12-01","y":-11},
{"d":"2020-01-01","y":-5},{"d":"2020-02-01","y":2},{"d":"2020-03-01","y":6},{"d":"2020-04-01","y":6.5},{"d":"2020-05-01","y":5.5},{"d":"2020-06-01","y":5},{"d":"2020-07-01","y":5},{"d":"2020-08-01","y":6},{"d":"2020-09-01","y":6},{"d":"2020-10-01","y":6.5},{"d":"2020-11-01","y":7},{"d":"2020-12-01","y":8},
{"d":"2021-01-01","y":11},{"d":"2021-02-01","y":14},{"d":"2021-03-01","y":19},{"d":"2021-04-01","y":24},{"d":"2021-05-01","y":27},{"d":"2021-06-01","y":29},{"d":"2021-07-01","y":29.5},{"d":"2021-08-01","y":28},{"d":"2021-09-01","y":26},{"d":"2021-10-01","y":24},{"d":"2021-11-01","y":24},{"d":"2021-12-01","y":28},
{"d":"2022-01-01","y":31},{"d":"2022-02-01","y":32},{"d":"2022-03-01","y":25},{"d":"2022-04-01","y":22},{"d":"2022-05-01","y":20},{"d":"2022-06-01","y":17},{"d":"2022-07-01","y":14},{"d":"2022-08-01","y":8},{"d":"2022-09-01","y":2},{"d":"2022-10-01","y":-3},{"d":"2022-11-01","y":-7},{"d":"2022-12-01","y":-15}
      ]},
      "mark": {"type": "line", "strokeWidth": 2, "point": {"shape": "diamond", "size": 10, "filled": true}},
      "encoding": {
        "x": {"field": "d", "type": "temporal",
              "axis": {"orient": "top", "labels": false, "ticks": false, "tickSize": 0, "domain": true, "domainColor": "#000000", "domainWidth": 1.3, "grid": false, "title": null}},
        "y": {"field": "y", "type": "quantitative", "scale": {"domain": [-62.05, 100.95], "nice": false, "zero": false},
              "axis": {"orient": "right", "offset": -50, "values": [-30,-20,-10,0,10,20,30,40,50,60,70], "domain": false, "ticks": true, "tickSize": 4, "tickColor": "#7F7F7F", "labelPadding": 3, "labelFontSize": 11.5, "labelColor": "#000000", "grid": false, "title": null}},
        "color": {"datum": "半导体销售额当月同比（%，右）"}
      }
    },
    {
      "data": {"format": {"parse": {"d": "date"}}, "values": [{"d":"2008-09-26","p":0.30},{"d":"2015-08-18","p":0.45},{"d":"2018-08-19","p":0.53}]},
      "mark": {"type": "point", "shape": "circle", "size": 150, "filled": false, "color": "#C00000", "strokeWidth": 1.5, "opacity": 1},
      "encoding": {
        "x": {"field": "d", "type": "temporal", "axis": null},
        "y": {"field": "p", "type": "quantitative", "scale": {"domain": [-0.2167, 1.902], "nice": false, "zero": false}, "axis": null}
      }
    },
    {
      "data": {"format": {"parse": {"d": "date"}}, "values": [{"d":"2008-01-01","p":0.236,"t":"领先\n1个季度"},{"d":"2016-02-15","p":0.323,"t":"领先\n2.5个季度"},{"d":"2018-07-16","p":0.367,"t":"领先\n2个季度"}]},
      "mark": {"type": "text", "color": "#C00000", "fontSize": 9.5, "fontWeight": "bold", "lineBreak": "\n", "lineHeight": 12.5, "align": "center", "baseline": "middle", "font": "Noto Sans CJK SC"},
      "encoding": {
        "x": {"field": "d", "type": "temporal", "axis": null},
        "y": {"field": "p", "type": "quantitative", "scale": {"domain": [-0.2167, 1.902], "nice": false, "zero": false}, "axis": null},
        "text": {"field": "t"}
      }
    }
  ]
}
]
}
